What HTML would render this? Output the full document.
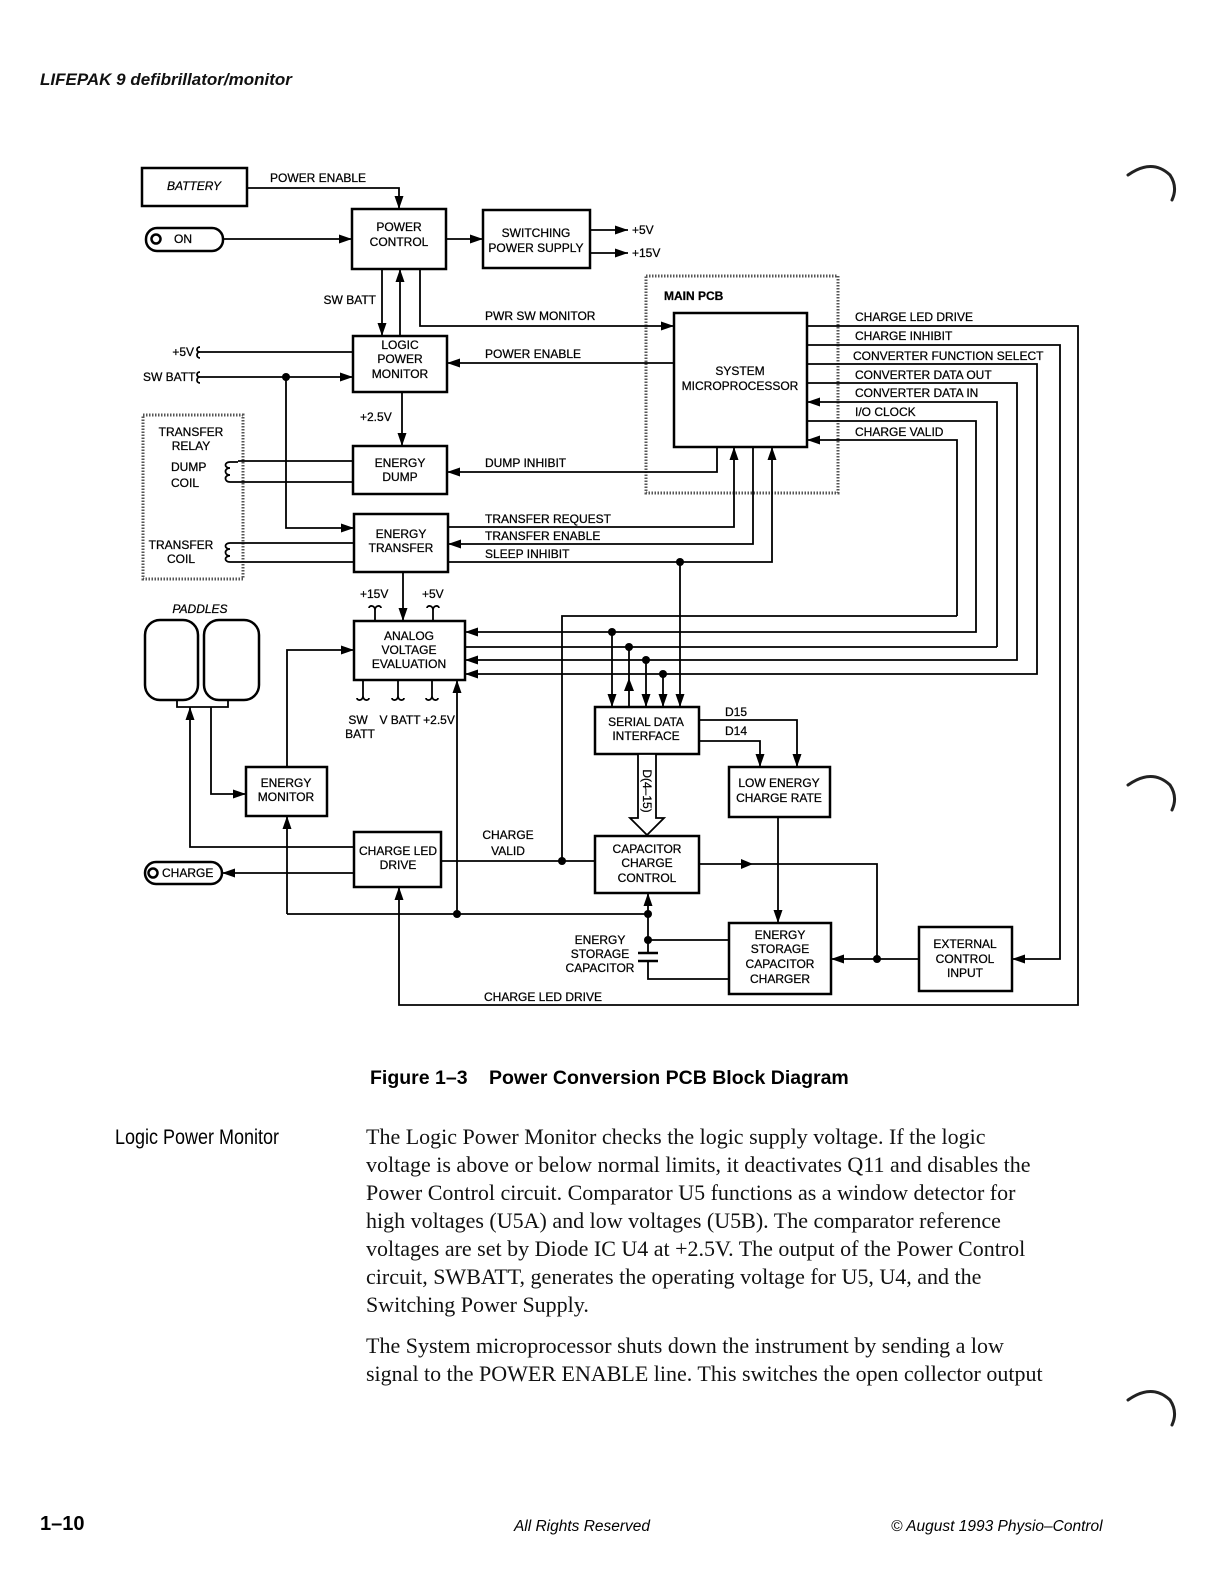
<!DOCTYPE html>
<html><head><meta charset="utf-8"><style>
html,body{margin:0;padding:0;background:#fff;}
svg{display:block;}
.d{font-family:"Liberation Sans",sans-serif;font-size:12px;fill:#000;stroke:#000;stroke-width:0.25;}
.c{text-anchor:middle;}
.b{fill:none;stroke:#000;stroke-width:2.5;}
.l{fill:none;stroke:#000;stroke-width:1.8;}
.dot{fill:#000;}
.dt{fill:none;stroke:#555;stroke-width:3;stroke-dasharray:1.5 1.5;}
.body{font-family:"Liberation Serif",serif;font-size:22px;fill:#111;}
</style></head><body>
<svg width="1209" height="1586" viewBox="0 0 1209 1586" xmlns="http://www.w3.org/2000/svg">
<defs>
<marker id="a" markerUnits="userSpaceOnUse" markerWidth="14" markerHeight="10" refX="13" refY="5" orient="auto"><path d="M0,0.5 L13,5 L0,9.5 z" fill="#000"/></marker>
</defs>
<text x="40" y="85" style="font-family:'Liberation Sans',sans-serif;font-size:17px;font-style:italic;font-weight:bold;fill:#111">LIFEPAK 9 defibrillator/monitor</text>

<!-- dotted boxes -->
<rect class="dt" x="646" y="276" width="192" height="217"/>
<rect class="dt" x="143" y="415" width="100" height="164"/>

<!-- boxes -->
<rect class="b" x="142" y="168" width="105" height="38"/>
<rect class="b" x="352" y="209" width="94" height="60"/>
<rect class="b" x="483" y="210" width="107" height="58"/>
<rect class="b" x="353" y="336" width="94" height="56"/>
<rect class="b" x="353" y="446" width="94" height="48"/>
<rect class="b" x="354" y="514" width="94" height="58"/>
<rect class="b" x="674" y="313" width="133" height="134"/>
<rect class="b" x="354" y="621" width="111" height="59"/>
<rect class="b" x="595" y="707" width="104" height="47"/>
<rect class="b" x="246" y="767" width="81" height="49"/>
<rect class="b" x="354" y="832" width="87" height="55"/>
<rect class="b" x="729" y="767" width="101" height="50"/>
<rect class="b" x="595" y="836" width="104" height="57"/>
<rect class="b" x="729" y="923" width="102" height="71"/>
<rect class="b" x="919" y="927" width="93" height="64"/>
<rect class="b" x="146" y="228" width="77" height="23" rx="11"/>
<rect class="b" x="145" y="862" width="77" height="22" rx="11"/>
<circle cx="156" cy="239" r="4.5" class="b"/>
<circle cx="153" cy="873" r="4.5" class="b"/>
<rect class="b" x="145" y="620" width="53" height="80" rx="15"/>
<rect class="b" x="204" y="620" width="55" height="80" rx="15"/>
<polyline class="l" points="177,700 177,707 228,707 228,700"/>

<!-- connectors -->
<polyline class="l" marker-end="url(#a)" points="247,188 399,188 399,209"/>
<polyline class="l" marker-end="url(#a)" points="223,239 352,239"/>
<polyline class="l" marker-end="url(#a)" points="446,239 483,239"/>
<polyline class="l" marker-end="url(#a)" points="590,230 628,230"/>
<polyline class="l" marker-end="url(#a)" points="590,253 628,253"/>
<polyline class="l" marker-end="url(#a)" points="382,269 382,336"/>
<polyline class="l" marker-end="url(#a)" points="400,336 400,269"/>
<polyline class="l" marker-end="url(#a)" points="420,269 420,326 674,326"/>
<polyline class="l" marker-end="url(#a)" points="674,363 447,363"/>
<polyline class="l" points="200,352 353,352"/>
<polyline class="l" marker-end="url(#a)" points="200,377 353,377"/>
<polyline class="l" marker-end="url(#a)" points="286,377 286,528 354,528"/>
<circle class="dot" cx="286" cy="377" r="4"/>
<polyline class="l" marker-end="url(#a)" points="402,392 402,446"/>
<polyline class="l" marker-end="url(#a)" points="717,447 717,472 447,472"/>
<polyline class="l" points="238,461 353,461"/>
<polyline class="l" points="238,482 353,482"/>
<polyline class="l" points="238,543 354,543"/>
<polyline class="l" points="238,562 354,562"/>
<polyline class="l" marker-end="url(#a)" points="448,527 734,527 734,447"/>
<polyline class="l" marker-end="url(#a)" points="753,447 753,544 448,544"/>
<polyline class="l" marker-end="url(#a)" points="448,562 772,562 772,447"/>
<circle class="dot" cx="680" cy="562" r="4"/>
<polyline class="l" marker-end="url(#a)" points="680,562 680,707"/>
<polyline class="l" marker-end="url(#a)" points="403,572 403,621"/>

<polyline class="l" marker-end="url(#a)" points="807,326 1078,326 1078,1005 399,1005 399,887"/>
<polyline class="l" marker-end="url(#a)" points="807,345 1060,345 1060,959 1012,959"/>
<polyline class="l" marker-end="url(#a)" points="807,364 1037,364 1037,674 465,674"/>
<polyline class="l" marker-end="url(#a)" points="807,383 1017,383 1017,660 465,660"/>
<polyline class="l" marker-end="url(#a)" points="997,647 997,402 807,402"/>
<polyline class="l" points="465,647 997,647"/>
<polyline class="l" marker-end="url(#a)" points="807,421 976,421 976,632 465,632"/>
<polyline class="l" marker-end="url(#a)" points="957,616 957,440 807,440"/>
<polyline class="l" points="957,616 562,616 562,861"/>
<circle class="dot" cx="612" cy="632" r="4"/>
<circle class="dot" cx="629" cy="647" r="4"/>
<circle class="dot" cx="646" cy="660" r="4"/>
<circle class="dot" cx="663" cy="674" r="4"/>
<polyline class="l" marker-end="url(#a)" points="612,632 612,707"/>
<polyline class="l" points="629,647 629,707"/>
<path d="M629,678 L624,691 L634,691 z" fill="#000"/>
<polyline class="l" marker-end="url(#a)" points="646,660 646,707"/>
<polyline class="l" marker-end="url(#a)" points="663,674 663,707"/>

<polyline class="l" marker-end="url(#a)" points="287,767 287,650 354,650"/>
<polyline class="l" marker-end="url(#a)" points="354,847 190,847 190,707"/>
<polyline class="l" marker-end="url(#a)" points="211,707 211,794 246,794"/>
<polyline class="l" marker-end="url(#a)" points="354,873 222,873"/>
<polyline class="l" points="441,861 595,861"/>
<circle class="dot" cx="562" cy="861" r="4"/>
<polyline class="l" marker-end="url(#a)" points="287,914 287,816"/>
<polyline class="l" points="287,914 648,914"/>
<circle class="dot" cx="457" cy="914" r="4"/>
<polyline class="l" marker-end="url(#a)" points="457,914 457,680"/>
<circle class="dot" cx="648" cy="914" r="4"/>
<polyline class="l" marker-end="url(#a)" points="648,914 648,893"/>
<polyline class="l" points="648,914 648,953"/>
<circle class="dot" cx="648" cy="940" r="4"/>
<polyline class="l" points="648,940 729,940"/>
<line x1="638" y1="953" x2="658" y2="953" stroke="#000" stroke-width="2.5"/>
<line x1="638" y1="961" x2="658" y2="961" stroke="#000" stroke-width="2.5"/>
<polyline class="l" points="648,961 648,979 729,979"/>

<polyline class="l" marker-end="url(#a)" points="699,720 797,720 797,767"/>
<polyline class="l" marker-end="url(#a)" points="699,741 760,741 760,767"/>
<polyline class="l" points="699,864 877,864 877,959"/>
<path d="M741,859 L753,864 L741,869 z" fill="#000"/>
<circle class="dot" cx="877" cy="959" r="4"/>
<polyline class="l" marker-end="url(#a)" points="919,959 831,959"/>
<polyline class="l" marker-end="url(#a)" points="778,817 778,923"/>
<polygon points="638,754 656,754 656,818 664,818 647,835 630,818 638,818" fill="#fff" stroke="#000" stroke-width="1.8"/>

<!-- coils -->
<path class="l" d="M238,462 h-8 c-6,0 -6,6 0,6 c-6,0 -6,7 0,7 c-6,0 -6,7 0,7 h8"/>
<path class="l" d="M238,543 h-8 c-6,0 -6,6 0,6 c-6,0 -6,7 0,7 c-6,0 -6,6 0,6 h8"/>
<!-- squiggles -->
<path class="l" d="M200,352 c-4,0 -4,-5 0,-5 M200,352 c-4,0 -4,6 0,6"/>
<path class="l" d="M200,377 c-4,0 -4,-5 0,-5 M200,377 c-4,0 -4,6 0,6"/>
<path class="l" d="M375,621 v-11 c0,-5 -6,-5 -6,-2 M375,610 c0,-5 6,-5 6,-2"/>
<path class="l" d="M433,621 v-11 c0,-5 -6,-5 -6,-2 M433,610 c0,-5 6,-5 6,-2"/>
<path class="l" d="M363,680 v16 c0,5 -6,5 -6,2 M363,696 c0,5 6,5 6,2"/>
<path class="l" d="M398,680 v16 c0,5 -6,5 -6,2 M398,696 c0,5 6,5 6,2"/>
<path class="l" d="M432,680 v16 c0,5 -6,5 -6,2 M432,696 c0,5 6,5 6,2"/>

<!-- labels -->
<g class="d">
<text x="194" y="190" class="c" style="font-style:italic">BATTERY</text>
<text x="270" y="182">POWER ENABLE</text>
<text x="174" y="243">ON</text>
<text x="399" y="231" class="c">POWER</text><text x="399" y="246" class="c">CONTROL</text>
<text x="536" y="237" class="c">SWITCHING</text><text x="536" y="252" class="c">POWER SUPPLY</text>
<text x="632" y="234">+5V</text><text x="632" y="257">+15V</text>
<text x="376" y="304" style="text-anchor:end">SW BATT</text>
<text x="485" y="320">PWR SW MONITOR</text>
<text x="400" y="349" class="c">LOGIC</text><text x="400" y="363" class="c">POWER</text><text x="400" y="378" class="c">MONITOR</text>
<text x="194" y="356" style="text-anchor:end">+5V</text>
<text x="143" y="381">SW BATT</text>
<text x="485" y="358">POWER ENABLE</text>
<text x="360" y="421">+2.5V</text>
<text x="400" y="467" class="c">ENERGY</text><text x="400" y="481" class="c">DUMP</text>
<text x="485" y="467">DUMP INHIBIT</text>
<text x="191" y="436" class="c">TRANSFER</text><text x="191" y="450" class="c">RELAY</text>
<text x="171" y="471">DUMP</text><text x="171" y="487">COIL</text>
<text x="181" y="549" class="c">TRANSFER</text><text x="181" y="563" class="c">COIL</text>
<text x="401" y="538" class="c">ENERGY</text><text x="401" y="552" class="c">TRANSFER</text>
<text x="485" y="523">TRANSFER REQUEST</text>
<text x="485" y="540">TRANSFER ENABLE</text>
<text x="485" y="558">SLEEP INHIBIT</text>
<text x="360" y="598">+15V</text><text x="422" y="598">+5V</text>
<text x="664" y="300" style="font-weight:bold">MAIN  PCB</text>
<text x="740" y="375" class="c">SYSTEM</text><text x="740" y="390" class="c">MICROPROCESSOR</text>
<text x="855" y="321">CHARGE LED DRIVE</text>
<text x="855" y="340">CHARGE INHIBIT</text>
<text x="853" y="360">CONVERTER FUNCTION SELECT</text>
<text x="855" y="379">CONVERTER DATA OUT</text>
<text x="855" y="397">CONVERTER DATA IN</text>
<text x="855" y="416">I/O CLOCK</text>
<text x="855" y="436">CHARGE VALID</text>
<text x="200" y="613" class="c" style="font-style:italic">PADDLES</text>
<text x="409" y="640" class="c">ANALOG</text><text x="409" y="654" class="c">VOLTAGE</text><text x="409" y="668" class="c">EVALUATION</text>
<text x="358" y="724" class="c">SW</text><text x="360" y="738" class="c">BATT</text>
<text x="400" y="724" class="c">V BATT</text><text x="439" y="724" class="c">+2.5V</text>
<text x="646" y="726" class="c">SERIAL DATA</text><text x="646" y="740" class="c">INTERFACE</text>
<text x="725" y="716">D15</text><text x="725" y="735">D14</text>
<text x="0" y="0" class="c" transform="translate(643,791) rotate(90)">D(4–15)</text>
<text x="286" y="787" class="c">ENERGY</text><text x="286" y="801" class="c">MONITOR</text>
<text x="779" y="787" class="c">LOW ENERGY</text><text x="779" y="802" class="c">CHARGE RATE</text>
<text x="508" y="839" class="c">CHARGE</text><text x="508" y="855" class="c">VALID</text>
<text x="398" y="855" class="c">CHARGE LED</text><text x="398" y="869" class="c">DRIVE</text>
<text x="162" y="877">CHARGE</text>
<text x="647" y="853" class="c">CAPACITOR</text><text x="647" y="867" class="c">CHARGE</text><text x="647" y="882" class="c">CONTROL</text>
<text x="600" y="944" class="c">ENERGY</text><text x="600" y="958" class="c">STORAGE</text><text x="600" y="972" class="c">CAPACITOR</text>
<text x="780" y="939" class="c">ENERGY</text><text x="780" y="953" class="c">STORAGE</text><text x="780" y="968" class="c">CAPACITOR</text><text x="780" y="983" class="c">CHARGER</text>
<text x="965" y="948" class="c">EXTERNAL</text><text x="965" y="963" class="c">CONTROL</text><text x="965" y="977" class="c">INPUT</text>
<text x="543" y="1001" class="c">CHARGE LED DRIVE</text>
</g>

<!-- swirls -->
<g fill="none" stroke="#222" stroke-width="3" stroke-linecap="round">
<path d="M1128,175 Q1152,158 1170,175 Q1178,187 1172,200"/>
<path d="M1128,785 Q1152,768 1170,785 Q1178,797 1172,810"/>
<path d="M1128,1400 Q1152,1383 1170,1400 Q1178,1412 1172,1425"/>
</g>

<text x="370" y="1084" style="font-family:'Liberation Sans',sans-serif;font-size:19.5px;font-weight:bold">Figure 1–3</text>
<text x="489" y="1084" style="font-family:'Liberation Sans',sans-serif;font-size:19.5px;font-weight:bold">Power Conversion PCB Block Diagram</text>
<text x="115" y="1144" style="font-family:'Liberation Sans Narrow','Liberation Sans',sans-serif;font-size:21px;" textLength="164" lengthAdjust="spacingAndGlyphs">Logic Power Monitor</text>
<g class="body">
<text x="366" y="1144">The Logic Power Monitor checks the logic supply voltage.  If the logic</text>
<text x="366" y="1172">voltage is above or below normal limits, it deactivates Q11 and disables the</text>
<text x="366" y="1200">Power Control circuit.  Comparator U5 functions as a window detector for</text>
<text x="366" y="1228">high voltages (U5A) and low voltages (U5B).  The comparator reference</text>
<text x="366" y="1256">voltages are set by Diode IC U4 at +2.5V.  The output of the Power Control</text>
<text x="366" y="1284">circuit, SWBATT, generates the operating voltage for U5, U4, and the</text>
<text x="366" y="1312">Switching Power Supply.</text>
<text x="366" y="1353">The System microprocessor shuts down the instrument by sending a low</text>
<text x="366" y="1381">signal to the POWER ENABLE line.  This switches the open collector output</text>
</g>
<text x="40" y="1530" style="font-family:'Liberation Sans',sans-serif;font-size:20px;font-weight:bold">1–10</text>
<text x="582" y="1531" style="font-family:'Liberation Sans',sans-serif;font-size:15.5px;font-style:italic;text-anchor:middle">All Rights Reserved</text>
<text x="891" y="1531" style="font-family:'Liberation Sans',sans-serif;font-size:15.5px;font-style:italic">© August 1993 Physio–Control</text>
</svg>
</body></html>
